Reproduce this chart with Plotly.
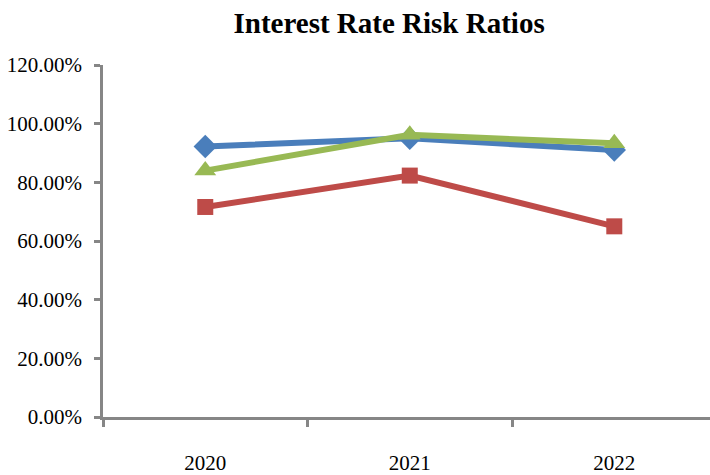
import plotly.graph_objects as go

years = ["2020", "2021", "2022"]
series_a = [92.2, 95.0, 91.0]   # blue diamonds
series_b = [71.6, 82.3, 65.0]   # red squares
series_c = [84.0, 96.2, 93.3]   # green triangles

font_family = "Palatino Linotype, Book Antiqua, Palatino, Liberation Serif, serif"

fig = go.Figure()
fig.add_trace(go.Scatter(x=years, y=series_a, mode="lines+markers",
                         line=dict(color="#4A7EBB", width=6),
                         marker=dict(symbol="diamond", size=18, color="#4A7EBB"),
                         showlegend=False))
fig.add_trace(go.Scatter(x=years, y=series_b, mode="lines+markers",
                         line=dict(color="#BE4B48", width=6),
                         marker=dict(symbol="square", size=16, color="#BE4B48"),
                         showlegend=False))
fig.add_trace(go.Scatter(x=years, y=series_c, mode="lines+markers",
                         line=dict(color="#98B954", width=6),
                         marker=dict(symbol="triangle-up", size=19, color="#98B954"),
                         showlegend=False))

fig.update_layout(
    width=710, height=475,
    margin=dict(l=103, r=0, t=65, b=55),
    paper_bgcolor="white", plot_bgcolor="white",
    font=dict(family=font_family, color="#000000", size=21),
    title=dict(text="<b>Interest Rate Risk Ratios</b>", x=0.548, xref="container",
               xanchor="center", y=0.952, yref="container", yanchor="middle",
               font=dict(size=29, family=font_family, color="#000000")),
)
fig.update_xaxes(type="category", range=[-0.5, 2.468], showline=True,
                 linecolor="#868686", linewidth=2.5, ticks="outside",
                 tickson="boundaries", ticklen=7, tickwidth=2.5, tickcolor="#868686",
                 showgrid=False, zeroline=False, ticklabelstandoff=25,
                 tickfont=dict(size=21))
fig.update_yaxes(range=[0, 120], dtick=20, tickformat=".2f", ticksuffix="%",
                 showline=True, linecolor="#868686", linewidth=2.5,
                 ticks="outside", ticklen=6, tickwidth=2.5, tickcolor="#868686",
                 showgrid=False, zeroline=False, ticklabelstandoff=8,
                 tickfont=dict(size=21))

fig.write_html("out.html")
